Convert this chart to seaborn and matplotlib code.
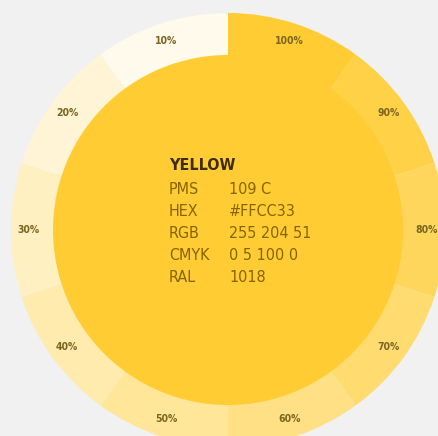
import numpy as np
import matplotlib
matplotlib.use("Agg")
import matplotlib.pyplot as plt
import seaborn as sns
from matplotlib.colors import to_rgb

# ---- data ----
tint_labels = ["100%", "90%", "80%", "70%", "60%", "50%", "40%", "30%", "20%", "10%"]
tint_values = [1.0, 0.9, 0.8, 0.7, 0.6, 0.5, 0.4, 0.3, 0.2, 0.1]
segment_sizes = [1, 1, 1, 1, 1, 1, 1, 1, 1, 1]
color_name = "YELLOW"
spec_keys = ["PMS", "HEX", "RGB", "CMYK", "RAL"]
spec_vals = ["109 C", "#FFCC33", "255 204 51", "0 5 100 0", "1018"]
base_hex = "#FFCC33"

sns.set_theme(style="white")
plt.rcParams['font.family'] = ['DejaVu Sans']

base = np.array(to_rgb(base_hex))
colors = [tuple(1 - t * (1 - base)) for t in tint_values]

fig = plt.figure(figsize=(4.38, 4.36), dpi=100)
bg = "#f1f1f1"
fig.patch.set_facecolor(bg)
ax = fig.add_axes([0, 0, 1, 1])
ax.set_facecolor(bg)

R_out, R_in = 217, 175
wedges, _ = ax.pie(segment_sizes, colors=colors, radius=R_out, startangle=90,
                   counterclock=False,
                   wedgeprops=dict(width=R_out - R_in + 6, linewidth=0))
ax.pie([1], colors=[base_hex], radius=R_in, wedgeprops=dict(linewidth=0))

ax.set_xlim(-228, 438 - 228)
ax.set_ylim(-(436 - 230), 230)
ax.set_aspect('equal')
ax.axis('off')

r_lab = 199
for w, lab in zip(wedges, tint_labels):
    ang = np.deg2rad((w.theta1 + w.theta2) / 2)
    ax.text(r_lab * np.cos(ang), r_lab * np.sin(ang), lab, ha='center', va='center',
            fontsize=7.5, color="#7a6420", fontweight='bold', fontstretch='condensed')

txt_col = "#866400"
ax.text(-59, 65, color_name, fontsize=11.5, fontweight='bold', color="#3d2c00",
        ha='left', va='center', fontstretch='condensed')
for i, (k, v) in enumerate(zip(spec_keys, spec_vals)):
    y = 41 - i * 22
    ax.text(-59, y, k, fontsize=11.5, color=txt_col, ha='left', va='center',
            fontstretch='condensed')
    ax.text(1, y, v, fontsize=11.5, color=txt_col, ha='left', va='center',
            fontstretch='condensed')

fig.savefig("out.png", dpi=100, facecolor=bg)
